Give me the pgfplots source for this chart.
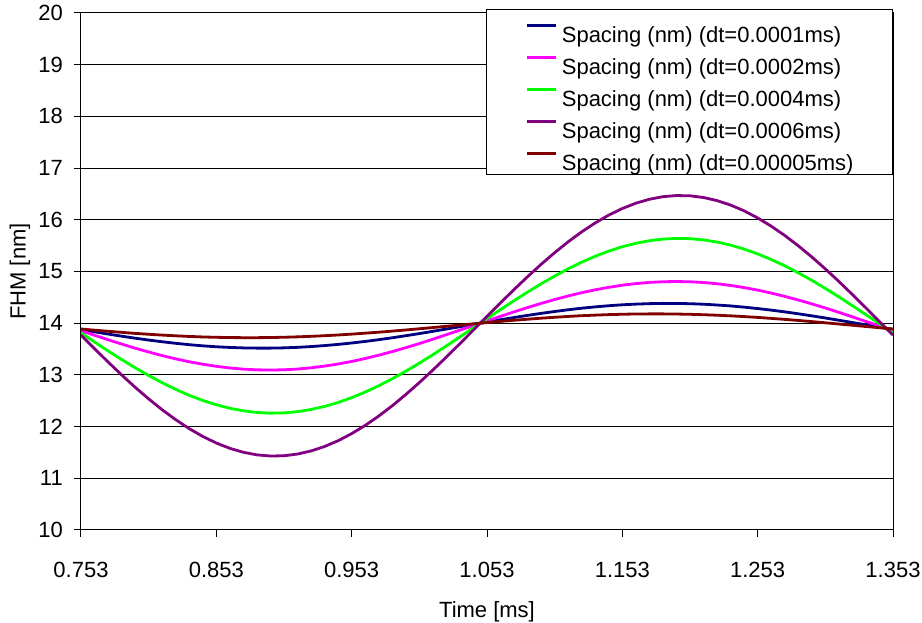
\documentclass[border=0pt]{standalone}
\usepackage{pgfplots}
\pgfplotsset{compat=1.18}
\usepackage{pgfplotstable}
\usepackage{fontspec}
\setmainfont{Liberation Sans}
\definecolor{cblue}{RGB}{0,0,128}
\definecolor{cpink}{RGB}{255,0,255}
\definecolor{cgreen}{RGB}{0,255,0}
\definecolor{cpurple}{RGB}{128,0,128}
\definecolor{cbrown}{RGB}{128,0,0}
\pgfplotstableread{
t blue pink green purple brown
0.753 13.878 13.855 13.812 13.768 13.888
0.763 13.833 13.767 13.636 13.507 13.865
0.773 13.790 13.680 13.464 13.250 13.844
0.783 13.749 13.597 13.298 13.000 13.823
0.793 13.710 13.517 13.138 12.761 13.803
0.803 13.674 13.443 12.988 12.536 13.786
0.813 13.641 13.373 12.848 12.325 13.770
0.823 13.611 13.310 12.720 12.133 13.756
0.833 13.584 13.254 12.605 11.960 13.744
0.843 13.562 13.206 12.505 11.809 13.734
0.853 13.544 13.166 12.422 11.682 13.727
0.863 13.531 13.134 12.354 11.579 13.722
0.873 13.522 13.111 12.305 11.503 13.720
0.883 13.518 13.098 12.273 11.453 13.720
0.893 13.518 13.094 12.260 11.431 13.723
0.903 13.523 13.099 12.265 11.436 13.728
0.913 13.533 13.113 12.289 11.469 13.736
0.923 13.548 13.137 12.331 11.529 13.746
0.933 13.567 13.170 12.390 11.615 13.758
0.943 13.590 13.211 12.467 11.727 13.772
0.953 13.617 13.260 12.560 11.864 13.789
0.963 13.647 13.317 12.668 12.023 13.807
0.973 13.681 13.381 12.790 12.204 13.826
0.983 13.718 13.451 12.925 12.403 13.847
0.993 13.758 13.526 13.072 12.620 13.869
1.003 13.799 13.606 13.227 12.851 13.892
1.013 13.843 13.690 13.391 13.094 13.916
1.023 13.887 13.777 13.561 13.346 13.940
1.033 13.932 13.866 13.735 13.605 13.964
1.043 13.977 13.955 13.912 13.868 13.988
1.053 14.022 14.045 14.088 14.132 14.012
1.063 14.067 14.133 14.264 14.394 14.035
1.073 14.110 14.220 14.436 14.651 14.057
1.083 14.151 14.303 14.602 14.900 14.077
1.093 14.190 14.383 14.762 15.139 14.097
1.103 14.226 14.458 14.912 15.364 14.114
1.113 14.260 14.527 15.052 15.575 14.131
1.123 14.290 14.590 15.180 15.767 14.145
1.133 14.316 14.646 15.295 15.940 14.156
1.143 14.338 14.694 15.395 16.091 14.166
1.153 14.356 14.735 15.479 16.218 14.173
1.163 14.369 14.766 15.546 16.321 14.178
1.173 14.378 14.789 15.595 16.397 14.180
1.183 14.383 14.802 15.627 16.447 14.180
1.193 14.382 14.806 15.640 16.469 14.177
1.203 14.377 14.801 15.635 16.464 14.172
1.213 14.367 14.787 15.611 16.431 14.164
1.223 14.352 14.763 15.570 16.371 14.154
1.233 14.334 14.730 15.510 16.285 14.142
1.243 14.310 14.689 15.433 16.173 14.128
1.253 14.283 14.640 15.340 16.036 14.112
1.263 14.253 14.583 15.232 15.877 14.093
1.273 14.219 14.519 15.110 15.697 14.074
1.283 14.182 14.449 14.975 15.497 14.053
1.293 14.142 14.374 14.829 15.281 14.031
1.303 14.101 14.294 14.673 15.050 14.008
1.313 14.057 14.210 14.509 14.807 13.984
1.323 14.013 14.123 14.339 14.554 13.960
1.333 13.968 14.034 14.165 14.295 13.936
1.343 13.923 13.945 13.989 14.032 13.912
1.353 13.878 13.855 13.812 13.768 13.888
}\datatab
\begin{document}
\begin{tikzpicture}
\useasboundingbox (-81pt,-93pt) rectangle (841pt,530pt);
\begin{axis}[
  at={(0pt,0pt)}, anchor=south west,
  scale only axis,
  width=812pt, height=517pt,
  xmin=0.753, xmax=1.353, ymin=10, ymax=20,
  xtick={0.753,0.853,0.953,1.053,1.153,1.253,1.353},
  xticklabels={0.753,0.853,0.953,1.053,1.153,1.253,1.353},
  ytick={10,11,12,13,14,15,16,17,18,19,20},
  yticklabels={10,11,12,13,14,15,16,17,18,19,20},
  xtick pos=bottom, ytick pos=left,
  tick align=outside,
  major tick length=7pt,
  tick style={black, line width=1pt},
  ymajorgrids,
  grid style={black, line width=1pt},
  axis line style={black, line width=1pt},
  tick label style={font=\fontsize{22}{26}\selectfont, inner sep=0pt},
  xticklabel shift=25pt,
  yticklabel shift=11pt,
  label style={font=\fontsize{22}{26}\selectfont},
  xlabel={Time [ms]},
  ylabel={FHM [nm]},
  xlabel style={at={(axis description cs:0.5,0)}, anchor=center, yshift=-82pt},
  ylabel style={at={(axis description cs:0,0.5)}, anchor=center, yshift=61pt},
  legend cell align=left,
  legend style={
    at={(1,1.0077)}, anchor=north east,
    font=\fontsize{22}{26}\selectfont,
    draw=black, line width=1pt, fill=white,
    inner xsep=39pt, inner ysep=4pt,
    row sep=3.3pt, column sep=4pt,
    cells={anchor=base west},
    nodes={inner sep=0pt, text height=16pt, text depth=0pt},
  },
  legend image code/.code={\path[draw=none] (0pt,0pt) rectangle (29pt,28.7pt);\draw[#1, line width=3pt] (0pt,17pt) -- (29pt,17pt);},
  every axis plot/.append style={line width=2.8pt, line join=round},
]
\addplot[cblue] table[x=t, y=blue] {\datatab};
\addlegendentry{Spacing (nm) (dt=0.0001ms)}
\addplot[cpink] table[x=t, y=pink] {\datatab};
\addlegendentry{Spacing (nm) (dt=0.0002ms)}
\addplot[cgreen] table[x=t, y=green] {\datatab};
\addlegendentry{Spacing (nm) (dt=0.0004ms)}
\addplot[cpurple] table[x=t, y=purple] {\datatab};
\addlegendentry{Spacing (nm) (dt=0.0006ms)}
\addplot[cbrown] table[x=t, y=brown] {\datatab};
\addlegendentry{Spacing (nm) (dt=0.00005ms)}
\end{axis}
\end{tikzpicture}
\end{document}
